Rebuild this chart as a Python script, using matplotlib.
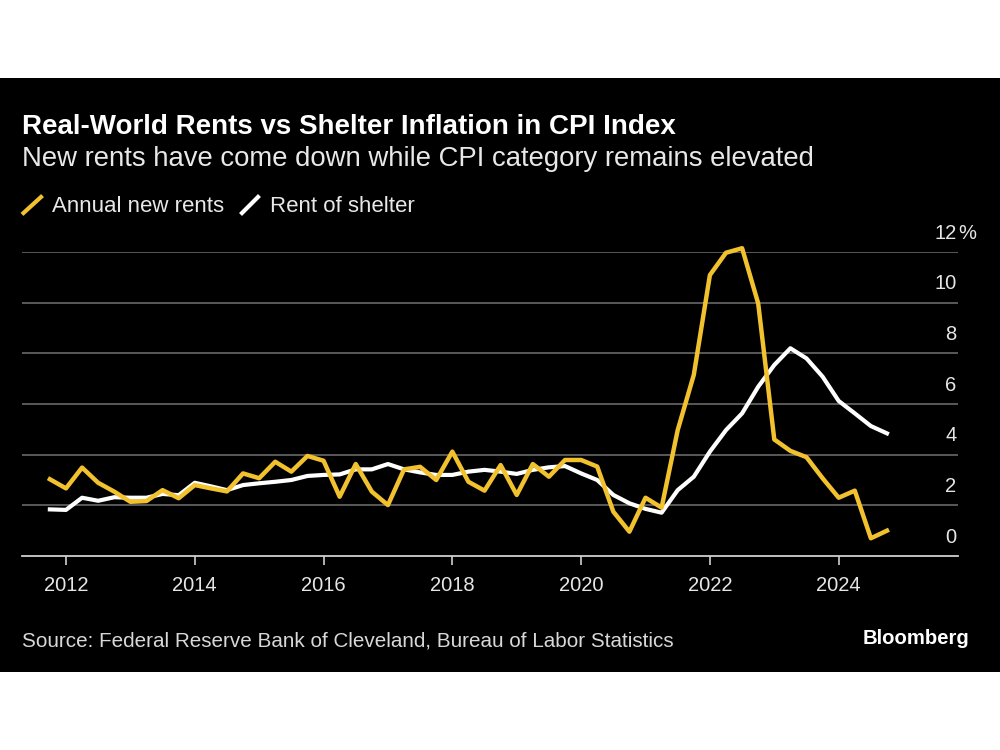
import numpy as np
import pandas as pd
import matplotlib
matplotlib.use('Agg')
import matplotlib.pyplot as plt
from matplotlib.lines import Line2D

plt.rcParams['font.family'] = ['Liberation Sans', 'DejaVu Sans']

# quarterly observations, 2011 Q4 .. 2024 Q4
quarters = pd.period_range('2011Q4', '2024Q4', freq='Q')
new_rents = [3.03, 2.67, 3.49, 2.89, 2.54, 2.14, 2.17, 2.60, 2.28, 2.80,
             2.67, 2.55, 3.26, 3.07, 3.72, 3.33, 3.95, 3.76, 2.34, 3.63,
             2.54, 2.01, 3.42, 3.52, 3.00, 4.12, 2.93, 2.58, 3.59, 2.41,
             3.63, 3.13, 3.79, 3.79, 3.53, 1.75, 0.96, 2.30, 1.91, 4.97,
             7.15, 11.09, 11.97, 12.15, 9.97, 4.60, 4.15, 3.90, 3.07, 2.30,
             2.58, 0.70, 1.00]
shelter = [1.84, 1.82, 2.30, 2.18, 2.32, 2.30, 2.30, 2.45, 2.40, 2.89,
           2.75, 2.60, 2.80, 2.87, 2.93, 3.00, 3.16, 3.20, 3.22, 3.42,
           3.42, 3.63, 3.42, 3.30, 3.20, 3.20, 3.33, 3.40, 3.33, 3.24,
           3.40, 3.50, 3.55, 3.26, 3.00, 2.41, 2.08, 1.86, 1.71, 2.60,
           3.13, 4.12, 4.97, 5.63, 6.68, 7.54, 8.20, 7.80, 7.08, 6.12,
           5.63, 5.13, 4.84]
year_ticks = [2012, 2014, 2016, 2018, 2020, 2022, 2024]
y_ticks = [0, 2, 4, 6, 8, 10, 12]

YELLOW = '#f2c12e'
x = [q.year + (q.quarter - 1) / 4.0 for q in quarters]

fig = plt.figure(figsize=(10, 7.5), dpi=100, facecolor='white')
# black card
fig.patches.append(plt.Rectangle((0, 78 / 750), 1, 594 / 750, transform=fig.transFigure,
                                 facecolor='black', edgecolor='none', zorder=-10))

ax = fig.add_axes([0.022, 194 / 750, 0.936, 304 / 750])
ax.set_facecolor('black')
ax.set_xlim(2011.317, 2025.853)
ax.set_ylim(0, 12)

for v in y_ticks[1:]:
    ax.axhline(v, color='#606060', lw=1.3, zorder=1)
for v in y_ticks:
    ax.annotate(str(v), xy=(1, v), xycoords=('axes fraction', 'data'),
                xytext=(-1, 9.5), textcoords='offset points',
                ha='right', va='baseline', color='#e6e6e6', fontsize=14.5)
ax.annotate('%', xy=(1, 12), xycoords=('axes fraction', 'data'),
            xytext=(0.3, 9.5), textcoords='offset points',
            ha='left', va='baseline', color='#e6e6e6', fontsize=14.5)

ax.plot(x, shelter, color='white', lw=3.0, zorder=3, clip_on=False)
ax.plot(x, new_rents, color=YELLOW, lw=3.2, zorder=4, clip_on=False)

for s in ['top', 'left', 'right']:
    ax.spines[s].set_visible(False)
ax.spines['bottom'].set_color('#d0d0d0')
ax.spines['bottom'].set_linewidth(1.3)
ax.set_yticks([])
ax.set_xticks(year_ticks)
ax.set_xticklabels([str(y) for y in year_ticks])
ax.tick_params(axis='x', colors='#d0d0d0', length=6.5, width=1.2, pad=8,
               labelsize=14.5, labelcolor='#e6e6e6')

# title block
fig.text(0.022, 1 - 134 / 750, 'Real-World Rents vs Shelter Inflation in CPI Index',
         color='white', fontsize=20, fontweight='bold', va='baseline')
fig.text(0.022, 1 - 166.5 / 750, 'New rents have come down while CPI category remains elevated',
         color='#e8e8e8', fontsize=19.8, va='baseline')

# legend
fig.lines.append(Line2D([23.5 / 1000, 41 / 1000], [1 - 213 / 750, 1 - 197 / 750],
                        transform=fig.transFigure, color=YELLOW, lw=3))
fig.text(51.5 / 1000, 1 - 211.5 / 750, 'Annual new rents', color='#e8e8e8',
         fontsize=16, va='baseline')
fig.lines.append(Line2D([242 / 1000, 258 / 1000], [1 - 213 / 750, 1 - 197 / 750],
                        transform=fig.transFigure, color='white', lw=3))
fig.text(270 / 1000, 1 - 211.5 / 750, 'Rent of shelter', color='#e8e8e8',
         fontsize=16, va='baseline')

# footer
fig.text(0.022, 1 - 646.5 / 750,
         'Source: Federal Reserve Bank of Cleveland, Bureau of Labor Statistics',
         color='#d8d8d8', fontsize=14.9, va='baseline')
fig.text(969 / 1000, 1 - 643.5 / 750, 'Bloomberg', color='white', fontsize=14.6,
         fontweight='bold', ha='right', va='baseline')

fig.savefig('out.png', dpi=100, facecolor='white')
